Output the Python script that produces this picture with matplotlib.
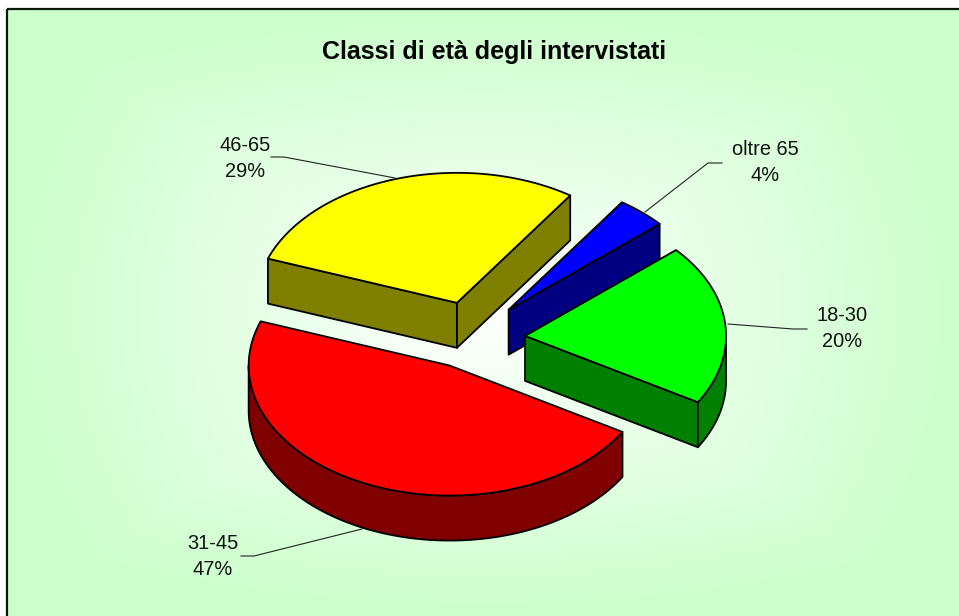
import numpy as np
import matplotlib
matplotlib.use("Agg")
import matplotlib.pyplot as plt
from matplotlib.colors import LinearSegmentedColormap
from matplotlib.patches import Polygon, Rectangle

categories = ["18-30", "31-45", "46-65", "oltre 65"]
values = [20, 47, 29, 4]
top_colors = ["#00FF00", "#FF0000", "#FFFF00", "#0000FF"]
side_colors = ["#008000", "#800000", "#808000", "#000080"]
title = "Classi di età degli intervistati"

W, H = 959, 616
CX, CY = 473, 335      # pie centre in pixels
RX, RY = 201, 130      # ellipse semi-axes
DEPTH = 45
EXPLODE = 0.26
START = 41.3           # degrees, running clockwise
nudges = {"18-30": (0, 4), "31-45": (-1, 0), "46-65": (0, 0), "oltre 65": (1, 0)}
stack = {"46-65": 2, "oltre 65": 3, "18-30": 4, "31-45": 5}

plt.rcParams["font.family"] = ["Liberation Sans", "DejaVu Sans"]
fig = plt.figure(figsize=(W / 100, H / 100), dpi=100)
ax = fig.add_axes([0, 0, 1, 1])
ax.set_xlim(0, W)
ax.set_ylim(H, 0)
ax.axis("off")

# background: white centre fading to pale green
x0, y0 = 8, 10
gx, gy = np.meshgrid(np.linspace(x0, W, 480), np.linspace(y0, H, 310))
mx, my = (x0 + W) / 2, (y0 + H) / 2
d = np.maximum(np.abs(gx - mx) / (W - mx), np.abs(gy - my) / (H - my))
d = np.clip(np.hypot(np.abs(gx - mx) / (W - mx), np.abs(gy - my) / (H - my)) * 0.45 + d * 0.55, 0, 1)
cmap = LinearSegmentedColormap.from_list("bg", ["#FFFFFF", "#CCFFCC"])
ax.imshow(d, extent=(x0, W, H, y0), cmap=cmap, vmin=0, vmax=1, aspect="auto", zorder=0)
ax.set_xlim(0, W)
ax.set_ylim(H, 0)
ax.add_patch(Rectangle((x0 - 1, y0 - 1), W + 20, H + 20, fill=False, ec="#0A1A0A", lw=1.6, zorder=1))


def pt(theta, ax0, ay0, dz=0.0):
    return ax0 + RX * np.cos(np.radians(theta)), ay0 - RY * np.sin(np.radians(theta)) + dz


angle = START
for cat, val, top, side in zip(categories, values, top_colors, side_colors):
    z = stack[cat]
    span = val / sum(values) * 360
    t1, t2 = angle, angle - span
    mid = (t1 + t2) / 2
    ax0, ay0 = pt(mid, 0, 0)
    ax0, ay0 = CX + EXPLODE * ax0 + nudges[cat][0], CY + EXPLODE * ay0 + nudges[cat][1]
    thetas = np.linspace(t1, t2, 120)
    arc = np.array([pt(t, ax0, ay0) for t in thetas])
    style = dict(ec="black", lw=1.3, joinstyle="round")
    # radial cut faces
    for th, normal in ((t1, t1 + 90), (t2, t2 - 90)):
        if np.sin(np.radians(normal)) < 0:
            e = pt(th, ax0, ay0)
            ax.add_patch(Polygon([(ax0, ay0), e, (e[0], e[1] + DEPTH), (ax0, ay0 + DEPTH)],
                                 fc=side, zorder=z, **style))
    # visible part of the rim
    vis = thetas[np.sin(np.radians(thetas)) < 0]
    if len(vis) > 1:
        up = np.array([pt(t, ax0, ay0) for t in vis])
        dn = up + [0, DEPTH]
        ax.add_patch(Polygon(np.vstack([up, dn[::-1]]), fc=side, zorder=z, **style))
    # top face
    ax.add_patch(Polygon(np.vstack([[ax0, ay0], arc]), fc=top, zorder=z + 0.5, **style))
    angle = t2

ax.text(494.5, 59, title, ha="center", va="baseline", fontsize=18, fontweight="bold", color="black", zorder=20)

labels = {
    "18-30": ((842, 328.5), [(728, 324), (793, 329), (807, 329)]),
    "31-45": ((213, 556.5), [(362, 529), (254, 556), (241, 556)]),
    "46-65": ((245, 158.5), [(395, 178), (284, 157), (271, 157)]),
    "oltre 65": ((765, 162.5), [(645, 212), (708, 163), (722, 163)]),
}
for cat, val in zip(categories, values):
    (tx, ty), line = labels[cat]
    xs, ys = zip(*line)
    ax.plot(xs, ys, color="#222222", lw=0.8, zorder=15)
    ax.text(tx, ty, f"{cat}\n{val}%", ha="center", va="center", fontsize=14.4,
            linespacing=1.5, color="#111111", zorder=20)

fig.savefig("out.png", dpi=100)
